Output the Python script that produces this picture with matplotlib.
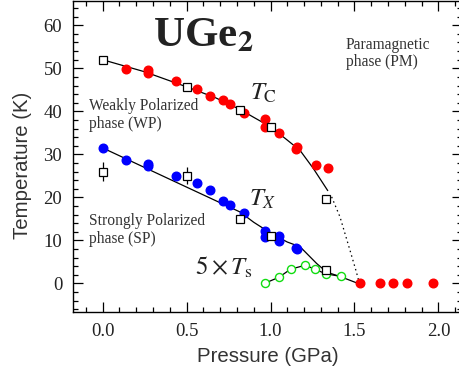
import matplotlib
matplotlib.use("Agg")
import matplotlib.pyplot as plt
from matplotlib.ticker import MultipleLocator

# ---- data ----
tc_P = [0.14, 0.27, 0.27, 0.44, 0.56, 0.64, 0.72, 0.76, 0.84, 0.97, 0.97, 1.05, 1.15, 1.16, 1.27, 1.34,
        1.53, 1.65, 1.73, 1.81, 1.97]
tc_T = [49.8, 49.7, 48.9, 47.0, 45.3, 43.6, 42.7, 41.7, 39.5, 38.2, 36.4, 35.0, 31.2, 31.7, 27.4, 26.8,
        0.0, 0.0, 0.0, 0.0, 0.0]

tx_P = [0.0, 0.14, 0.27, 0.27, 0.44, 0.56, 0.64, 0.72, 0.76, 0.84, 0.97, 0.97, 1.05, 1.05, 1.15, 1.16]
tx_T = [31.5, 28.6, 27.8, 27.3, 25.0, 23.3, 21.6, 19.2, 18.3, 16.3, 12.1, 10.8, 10.9, 9.8, 8.3, 8.0]

sq_tc_P = [0.0, 0.5, 0.82, 1.0, 1.33]
sq_tc_T = [52.0, 45.7, 40.4, 36.4, 19.5]

sq_tx_P = [0.0, 0.5, 0.82, 1.0, 1.33]
sq_tx_T = [26.0, 25.0, 15.0, 10.9, 3.0]
sq_tx_err = [2.2, 2.0, 0.0, 0.0, 0.0]

ts_P = [0.965, 1.05, 1.12, 1.207, 1.263, 1.33, 1.42]
ts_T = [0.0, 1.4, 3.3, 4.2, 3.3, 2.2, 1.6]

# guide curves
gc_P = [0.0, 0.25, 0.5, 0.67, 0.82, 0.9, 1.0, 1.1, 1.176, 1.255, 1.34]
gc_T = [52.0, 49.2, 45.7, 43.2, 40.4, 38.6, 36.4, 33.3, 30.9, 26.7, 21.6]

gd_P = [1.364, 1.414, 1.473, 1.51, 1.523]
gd_T = [20.1, 15.4, 7.7, 2.8, 0.9]

gx_P = [0.0, 0.4, 0.818, 0.9, 1.0, 1.1, 1.176, 1.275, 1.335, 1.42, 1.513]
gx_T = [31.5, 24.2, 16.6, 14.2, 11.7, 9.6, 8.5, 4.6, 2.6, 1.5, 0.1]

# ---- figure ----
plt.rcParams['mathtext.fontset'] = 'stix'
serif = 'Liberation Serif'
W, H = 459, 375
fig = plt.figure(figsize=(W / 100, H / 100), dpi=100)
ax = fig.add_axes([73.3 / W, 1 - 311.7 / H, (462 - 73.3) / W, (311.7 - 1) / H])
ax.set_xlim(-0.174, 2.14)
ax.set_ylim(-6.6, 65.65)

ax.plot(gc_P, gc_T, color='black', lw=0.9, zorder=2)
ax.plot(gd_P, gd_T, color='black', lw=0.9, ls=(0, (1.2, 2.6)), zorder=2)
ax.plot(gx_P, gx_T, color='black', lw=0.9, zorder=2)
ax.plot(ts_P, ts_T, color='black', lw=0.9, zorder=2)

ax.plot(tc_P, tc_T, 'o', color='#ff0000', ms=6.2, mec='#ff0000', zorder=3)
ax.plot(tx_P, tx_T, 'o', color='#0000ff', ms=6.2, mec='#0000ff', zorder=3)
ax.plot(ts_P, ts_T, 'o', mfc='white', mec='#11dd11', ms=5.8, mew=1.0, zorder=3)

ax.errorbar(sq_tx_P, sq_tx_T, yerr=sq_tx_err, fmt='none', ecolor='black', elinewidth=0.9, capsize=0, zorder=4)
ax.plot(sq_tc_P, sq_tc_T, 's', mfc='white', mec='black', ms=6.2, mew=0.9, zorder=5)
ax.plot(sq_tx_P, sq_tx_T, 's', mfc='white', mec='black', ms=6.2, mew=0.9, zorder=5)

# ---- text ----
tcol = '#333333'
ax.text(0.30, 55.0, r'UGe$_\mathbf{2}$', fontsize=31, fontweight='bold', family=serif,
        color='#222222', va='baseline', ha='left')
ax.text(1.447, 54.6, 'Paramagnetic', fontsize=11.2, family=serif, color=tcol, va='baseline')
ax.text(1.447, 50.6, 'phase (PM)', fontsize=11.2, family=serif, color=tcol, va='baseline')
ax.text(-0.079, 40.3, 'Weakly Polarized', fontsize=11.2, family=serif, color=tcol, va='baseline')
ax.text(-0.079, 36.2, 'phase (WP)', fontsize=11.2, family=serif, color=tcol, va='baseline')
ax.text(-0.079, 13.6, 'Strongly Polarized', fontsize=11.2, family=serif, color=tcol, va='baseline')
ax.text(-0.079, 9.3, 'phase (SP)', fontsize=11.2, family=serif, color=tcol, va='baseline')
ax.text(0.878, 42.6, r'$T_\mathrm{C}$', fontsize=18, color='#222222', va='baseline')
ax.text(0.874, 18.0, r'$T_X$', fontsize=18, color='#222222', va='baseline')
ax.text(0.55, 1.9, r'$5\times T_\mathrm{s}$', fontsize=18, color='#222222', va='baseline')

# ---- axes styling ----
ax.xaxis.set_major_locator(MultipleLocator(0.5))
ax.xaxis.set_minor_locator(MultipleLocator(0.1))
ax.yaxis.set_major_locator(MultipleLocator(10))
ax.yaxis.set_minor_locator(MultipleLocator(2))
ax.tick_params(which='both', direction='in', top=True, right=True, width=0.9, colors='black',
               labelcolor='#222222')
ax.tick_params(which='major', length=7.2, pad=8)
ax.tick_params(which='minor', length=3.6)
for lab in ax.get_xticklabels() + ax.get_yticklabels():
    lab.set_family(serif)
    lab.set_fontsize(13.5)
ax.xaxis.set_major_formatter(matplotlib.ticker.FormatStrFormatter('%.1f'))
for s in ax.spines.values():
    s.set_linewidth(1.0)

ax.set_xlabel('Pressure (GPa)', fontsize=14.7, family='Liberation Sans', color='#333333')
ax.set_ylabel('Temperature (K)', fontsize=14.7, family='Liberation Sans', color='#333333')
ax.xaxis.set_label_coords((267.5 - 73.3) / (462 - 73.3), -(346.5 - 311.7) / 310.7)
ax.yaxis.set_label_coords(-(73.3 - 32) / (462 - 73.3), (311.7 - 165) / 310.7)

fig.savefig('out.png', dpi=100)
